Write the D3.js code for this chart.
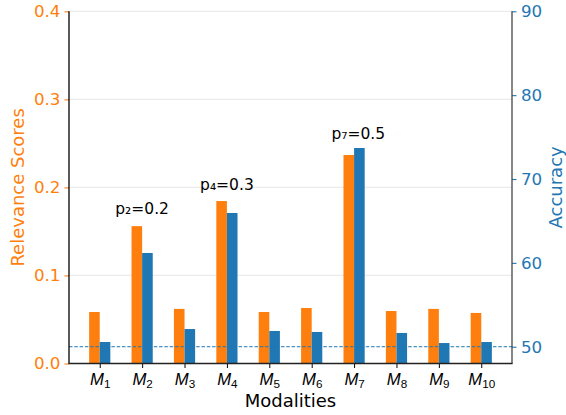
<!DOCTYPE html>
<html lang="en">
  <head>
    <meta charset="utf-8" />
    <title>Relevance vs Accuracy</title>
    <script src="https://cdn.jsdelivr.net/npm/d3@7"></script>
    <style>
      body { margin: 0; background: #fff; }
      svg { display: block; }
    </style>
  </head>
  <body>
    <svg id="chart" width="566" height="415"></svg>
    <script>
      // data
      const modalities = ["1", "2", "3", "4", "5", "6", "7", "8", "9", "10"];
      const relevance = [0.0585, 0.156, 0.062, 0.1845, 0.0585, 0.063, 0.2368, 0.0596, 0.062, 0.0574];
      const accuracy = [50.56, 61.18, 52.11, 65.95, 51.88, 51.76, 73.7, 51.64, 50.44, 50.56];
      const leftTicks = [0, 0.1, 0.2, 0.3, 0.4];
      const rightTicks = [50, 60, 70, 80, 90];
      const baselineAcc = 50;
      // annotations: category position, label, height in relevance units
      const noteX = [1, 3, 6.1];
      const noteText = ["p₂=0.2", "p₄=0.3", "p₇=0.5"];
      const noteY = [0.17, 0.1965, 0.255];

      const orange = "#ff7f0e";
      const blue = "#1f77b4";
      const font = "DejaVu Sans, Liberation Sans, sans-serif";

      const svg = d3.select("#chart").attr("font-family", font);
      const width = +svg.attr("width");
      const height = +svg.attr("height");
      const margin = { top: 11.3, right: 54, bottom: 51.5, left: 69 };
      const innerW = width - margin.left - margin.right;
      const innerH = height - margin.top - margin.bottom;

      const g = svg.append("g")
        .attr("transform", `translate(${margin.left},${margin.top})`);

      // scales
      const x = d3.scaleLinear().domain([-0.725, 9.725]).range([0, innerW]);
      const yL = d3.scaleLinear().domain([0, 0.4]).range([innerH, 0]);
      const yR = d3.scaleLinear().domain([48, 90]).range([innerH, 0]);
      const barW = x(0.25) - x(0);

      // grid lines from the left axis
      g.append("g")
        .selectAll("line")
        .data(leftTicks.filter(d => d > 0))
        .enter()
        .append("line")
        .attr("x1", 0)
        .attr("x2", innerW)
        .attr("y1", d => yL(d))
        .attr("y2", d => yL(d))
        .attr("stroke", "#ebebeb")
        .attr("stroke-width", 1.2);

      // relevance bars (left of tick)
      g.append("g")
        .selectAll("rect")
        .data(relevance)
        .enter()
        .append("rect")
        .attr("x", (d, i) => x(i - 0.25))
        .attr("y", d => yL(d))
        .attr("width", barW)
        .attr("height", d => innerH - yL(d))
        .attr("fill", orange);

      // accuracy bars (right of tick)
      g.append("g")
        .selectAll("rect")
        .data(accuracy)
        .enter()
        .append("rect")
        .attr("x", (d, i) => x(i))
        .attr("y", d => yR(d))
        .attr("width", barW)
        .attr("height", d => innerH - yR(d))
        .attr("fill", blue);

      // dashed reference line at accuracy 50
      g.append("line")
        .attr("x1", 0)
        .attr("x2", innerW)
        .attr("y1", yR(baselineAcc))
        .attr("y2", yR(baselineAcc))
        .attr("stroke", blue)
        .attr("stroke-width", 1)
        .attr("stroke-dasharray", "3.5,1.8");

      // left axis
      const leftAxis = g.append("g")
        .call(d3.axisLeft(yL).tickValues(leftTicks).tickFormat(d3.format(".1f")).tickSize(4.5).tickPadding(4));
      leftAxis.select(".domain").remove();
      leftAxis.selectAll(".tick line").attr("stroke", orange).attr("stroke-width", 1.1);
      leftAxis.selectAll("text")
        .attr("fill", orange)
        .attr("font-size", "16.7px")
        .attr("font-family", font);

      // right axis
      const rightAxis = g.append("g")
        .attr("transform", `translate(${innerW},0)`)
        .call(d3.axisRight(yR).tickValues(rightTicks).tickFormat(d3.format("d")).tickSize(4.5).tickPadding(4.5));
      rightAxis.select(".domain").remove();
      rightAxis.selectAll(".tick line").attr("stroke", blue).attr("stroke-width", 1.1);
      rightAxis.selectAll("text")
        .attr("fill", blue)
        .attr("font-size", "16.7px")
        .attr("font-family", font);

      // bottom axis with M_i labels
      const bottomAxis = g.append("g")
        .attr("transform", `translate(0,${innerH})`)
        .call(d3.axisBottom(x).tickValues(d3.range(modalities.length)).tickFormat("").tickSize(4.5));
      bottomAxis.select(".domain").remove();
      bottomAxis.selectAll(".tick line").attr("stroke", "#000").attr("stroke-width", 1);
      bottomAxis.selectAll(".tick")
        .append("text")
        .attr("y", 21.5)
        .attr("fill", "#000")
        .attr("text-anchor", "middle")
        .attr("font-size", "16.7px")
        .each(function (d, i) {
          const t = d3.select(this);
          t.append("tspan").attr("font-style", "italic").text("M");
          t.append("tspan")
            .attr("font-size", "11.7px")
            .attr("dy", 3)
            .text(modalities[i]);
        });

      // spines
      g.append("line")
        .attr("x1", 0).attr("x2", 0).attr("y1", 0).attr("y2", innerH)
        .attr("stroke", "#000").attr("stroke-width", 1.3);
      g.append("line")
        .attr("x1", innerW).attr("x2", innerW).attr("y1", 0).attr("y2", innerH)
        .attr("stroke", "#444").attr("stroke-width", 1.3);
      g.append("line")
        .attr("x1", -0.6).attr("x2", innerW + 0.6).attr("y1", innerH).attr("y2", innerH)
        .attr("stroke", "#222").attr("stroke-width", 1.6);

      // annotations
      g.append("g")
        .selectAll("text")
        .data(noteText)
        .enter()
        .append("text")
        .attr("x", (d, i) => x(noteX[i]))
        .attr("y", (d, i) => yL(noteY[i]))
        .attr("text-anchor", "middle")
        .attr("font-size", "15.5px")
        .attr("fill", "#000")
        .text(d => d);

      // axis titles
      svg.append("text")
        .attr("x", margin.left + innerW / 2)
        .attr("y", 407)
        .attr("text-anchor", "middle")
        .attr("font-size", "18px")
        .attr("fill", "#000")
        .text("Modalities");

      svg.append("text")
        .attr("transform", `translate(24,${margin.top + innerH / 2}) rotate(-90)`)
        .attr("text-anchor", "middle")
        .attr("font-size", "18px")
        .attr("fill", orange)
        .text("Relevance Scores");

      svg.append("text")
        .attr("transform", `translate(562,${margin.top + innerH / 2}) rotate(-90)`)
        .attr("text-anchor", "middle")
        .attr("font-size", "18px")
        .attr("fill", blue)
        .text("Accuracy");
    </script>
  </body>
</html>
